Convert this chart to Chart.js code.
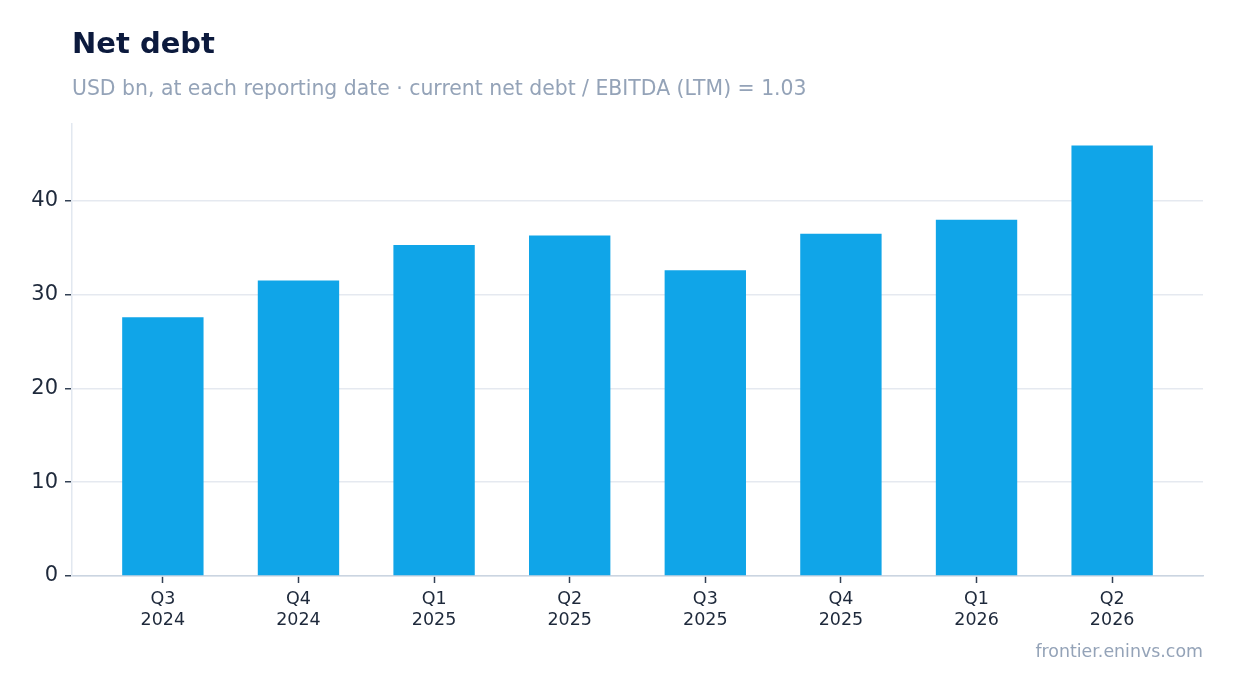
<!DOCTYPE html>
<html>
<head>
<meta charset="utf-8">
<title>Net debt</title>
<script src="https://cdn.jsdelivr.net/npm/chart.js@4/dist/chart.umd.min.js"></script>
<style>
    body { margin: 0; background: #fff; font-family: "DejaVu Sans", sans-serif; }
    #wrap { position: relative; width: 1234px; height: 693px; overflow: hidden; }
    #chart { position: absolute; left: 0; top: 0; }
    .txt { position: absolute; white-space: nowrap; }
    #title { left: 72px; top: 26px; font-size: 29px; font-weight: bold; color: #0c1a3d; }
    #subtitle { left: 72px; top: 76px; font-size: 20.4px; color: #94a3b8; }
    #footer { right: 31px; top: 641px; font-size: 17.4px; color: #94a3b8; }
</style>
</head>
<body>
<div id="wrap">
    <canvas id="chart" width="1234" height="693"></canvas>
    <div class="txt" id="title">Net debt</div>
    <div class="txt" id="subtitle">USD bn, at each reporting date · current net debt / EBITDA (LTM) = 1.03</div>
    <div class="txt" id="footer">frontier.eninvs.com</div>
</div>
<script>
// Data
const quarters = ["Q3", "Q4", "Q1", "Q2", "Q3", "Q4", "Q1", "Q2"];
const years = ["2024", "2024", "2025", "2025", "2025", "2025", "2026", "2026"];
const netDebt = [27.6, 31.5, 35.3, 36.3, 32.6, 36.5, 38.0, 45.9];
const yTicks = [0, 10, 20, 30, 40];

const chartCanvas = document.getElementById("chart");
const font = "DejaVu Sans";

const points = netDebt.map((v, i) => ({ x: i, y: v }));

new Chart(chartCanvas, {
    type: "bar",
    data: {
        datasets: [{
            label: "Net debt",
            data: points,
            backgroundColor: "#10a5e8",
            borderWidth: 0,
            barPercentage: 0.6,
            categoryPercentage: 1.0
        }]
    },
    options: {
        responsive: false,
        animation: false,
        layout: { padding: { left: 0, right: 31, top: 124, bottom: 0 } },
        plugins: {
            legend: { display: false },
            title: { display: false },
            tooltip: { enabled: false }
        },
        scales: {
            x: {
                type: "linear",
                offset: false,
                min: -0.67,
                max: 7.67,
                afterFit: (scale) => { scale.height = 117; },
                afterBuildTicks: (scale) => {
                    scale.ticks = quarters.map((_, i) => ({ value: i }));
                },
                grid: {
                    offset: false,
                    drawOnChartArea: false,
                    drawTicks: true,
                    tickLength: 7,
                    tickColor: "#334155",
                    tickWidth: 1.5
                },
                border: { color: "#cbd5e1", width: 1.5 },
                ticks: {
                    autoSkip: false,
                    maxRotation: 0,
                    padding: 6,
                    color: "#1e293b",
                    font: { family: font, size: 17.5, lineHeight: 1.2 },
                    callback: (value) => {
                        const i = Math.round(value);
                        return [quarters[i], years[i]];
                    }
                }
            },
            y: {
                min: 0,
                max: 48.2,
                afterFit: (scale) => { scale.width = 72; },
                afterBuildTicks: (scale) => {
                    scale.ticks = yTicks.map(v => ({ value: v }));
                },
                grid: {
                    color: "#e5e9f0",
                    lineWidth: 1.5,
                    tickLength: 7,
                    tickColor: "#334155",
                    tickWidth: 1.5
                },
                border: { color: "#e2e8f0", width: 1.5 },
                ticks: {
                    padding: 7,
                    color: "#1e293b",
                    font: { family: font, size: 21 }
                }
            }
        }
    }
});
</script>
</body>
</html>
